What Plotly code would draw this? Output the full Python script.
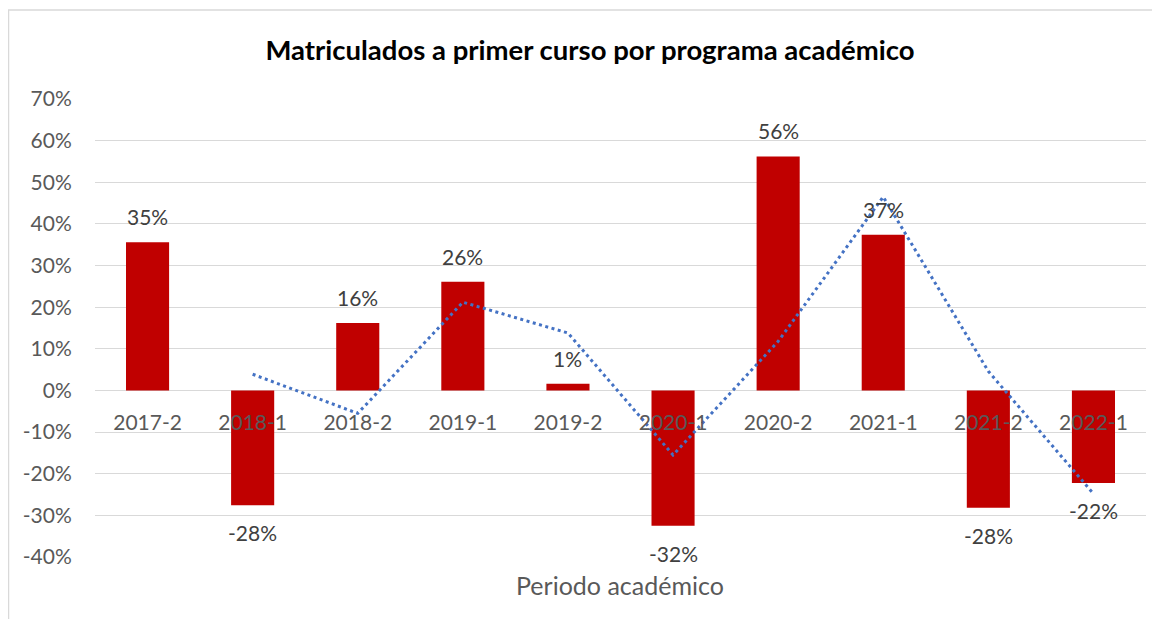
import plotly.graph_objects as go

categories = ["2017-2", "2018-1", "2018-2", "2019-1", "2019-2",
              "2020-1", "2020-2", "2021-1", "2021-2", "2022-1"]
variation = [35.6, -27.6, 16.2, 26.1, 1.6, -32.5, 56.2, 37.4, -28.2, -22.2]
labels = ["35%", "-28%", "16%", "26%", "1%", "-32%", "56%", "37%", "-28%", "-22%"]
# 2-period moving average trendline
trend = [None, 3.9, -5.5, 21.2, 13.8, -15.5, 11.8, 46.5, 4.6, -24.8]
y_ticks = [-40, -30, -20, -10, 0, 10, 20, 30, 40, 50, 60, 70]

FONT = "Lato"
OFF = 8  # page body margin offset
W, H = 1160, 619
L, T = 95 - OFF, 99 - OFF
PW, PH = 1051, 458
R = W - L - PW
B = H - T - PH

fig = go.Figure()
fig.add_trace(go.Bar(
    x=categories, y=variation, marker=dict(color="#C00000", line=dict(width=0)),
    width=0.41, hoverinfo="skip"))
fig.add_trace(go.Scatter(
    x=categories, y=trend, mode="lines",
    line=dict(color="#4472C4", width=3, dash="3px,3.5px"), hoverinfo="skip"))

annotations = []
for c, v, t in zip(categories, variation, labels):
    annotations.append(dict(
        x=c, y=v, xref="x", yref="y", text=t, showarrow=False,
        yanchor="bottom" if v >= 0 else "top",
        yshift=11 if v >= 0 else -13,
        font=dict(family=FONT, size=21, color="#404040")))
annotations.append(dict(
    x=(620 - 95) / PW, y=-0.025, xref="paper", yref="paper", text="Periodo académico",
    showarrow=False, yanchor="top", xanchor="center",
    font=dict(family=FONT, size=25, color="#595959")))

fig.update_layout(
    width=W, height=H,
    margin=dict(l=L, r=R, t=T, b=B, autoexpand=False),
    paper_bgcolor="white", plot_bgcolor="white",
    showlegend=False,
    title=dict(text="<b>Matriculados a primer curso por programa académico</b>",
               x=(590 - OFF) / W, xref="container", xanchor="center",
               y=1 - (50 - OFF) / H, yref="container", yanchor="middle",
               font=dict(family=FONT, size=27.5, color="#000000")),
    annotations=annotations,
    shapes=[dict(type="rect", xref="paper", yref="paper",
                 x0=(0.5 - L) / PW, x1=(W + 20 - L) / PW,
                 y0=-0.5, y1=(PH + T - 2) / PH,
                 line=dict(color="#D9D9D9", width=1.5), layer="below")],
)
fig.update_yaxes(
    range=[-40, 70], tickvals=y_ticks, ticktext=[f"{v}%" for v in y_ticks],
    showgrid=True, gridcolor="#D9D9D9", gridwidth=1.3,
    zeroline=True, zerolinecolor="#D9D9D9", zerolinewidth=1.3,
    ticks="outside", ticklen=18, tickcolor="rgba(0,0,0,0)",
    tickfont=dict(family=FONT, size=21, color="#595959"),
    showline=False, domain=[0, 1])
fig.update_xaxes(
    type="category",
    anchor="free", position=40 / 110,
    showgrid=False, showline=False, zeroline=False,
    ticks="outside", ticklen=13, tickcolor="rgba(0,0,0,0)",
    tickfont=dict(family=FONT, size=21, color="#595959"))

fig.write_html("out.html")
